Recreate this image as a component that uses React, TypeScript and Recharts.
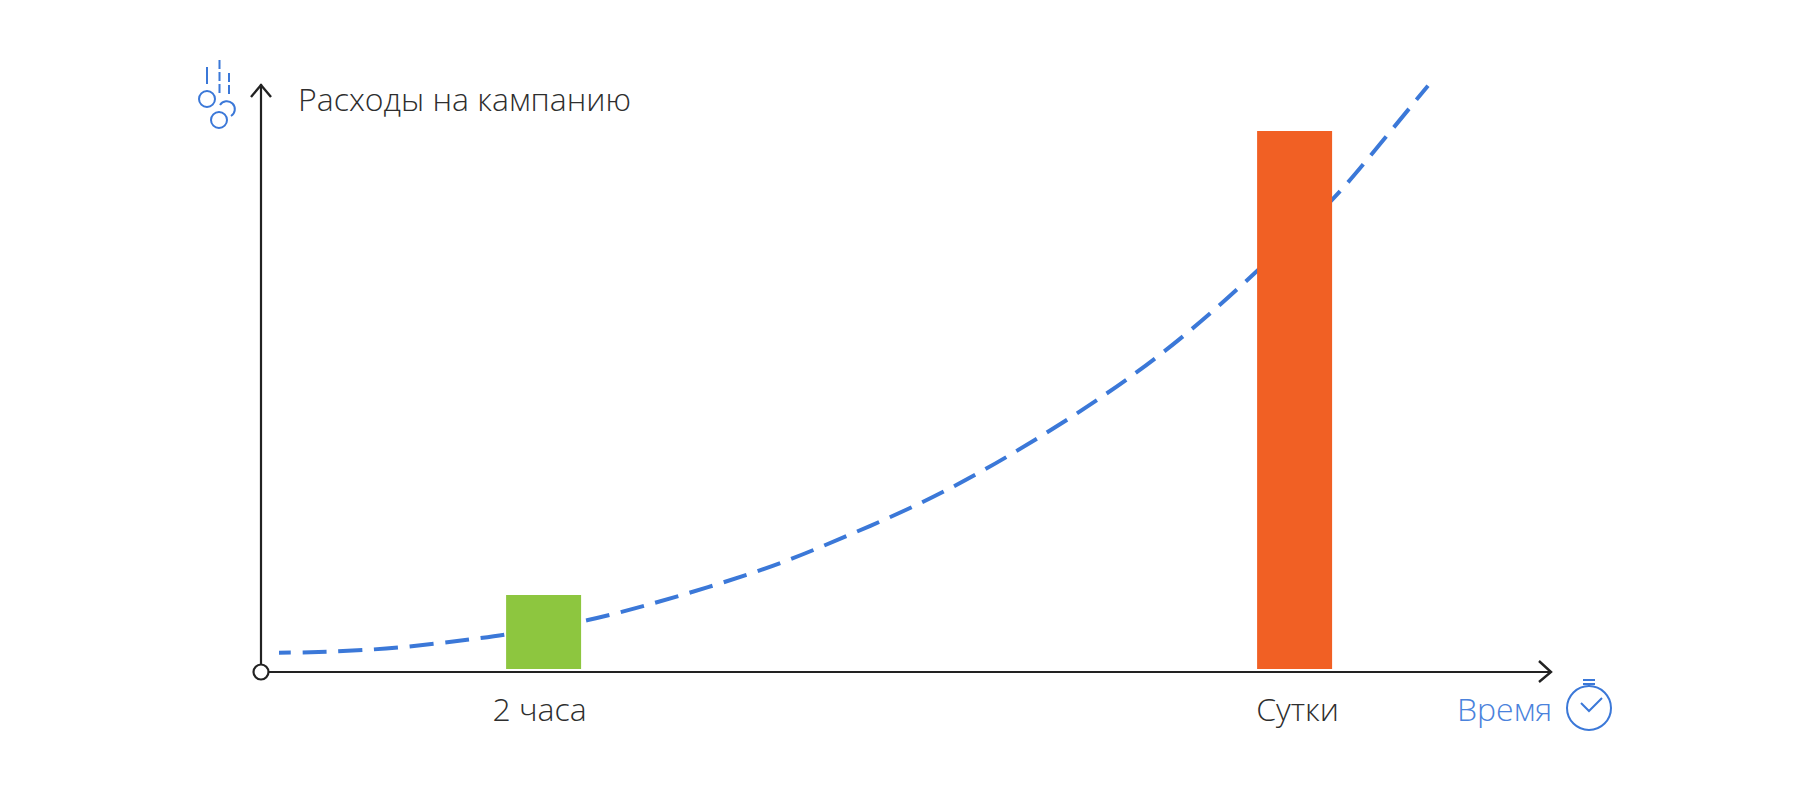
import { Bar, Cell, ComposedChart, Line, Rectangle, XAxis, YAxis } from "recharts";

const BLUE = "#3b78d8";
const TEXT_BLUE = "#4a82dc";
const DARK = "#222222";
const TEXT_DARK = "#2e2e2e";
const FONT = "'Open Sans', sans-serif";
const BAR_WIDTH = 75;

// time runs in arbitrary units, spend in percent of the axis height
const curveTime = [1.8, 6.8, 13.9, 21, 24.6, 28.25, 32.7, 38.6, 45.4, 52.2, 58.8, 65.3, 71.7, 77.9, 83.9, 89.7, 95.2, 99.6, 103.35, 107.1, 110.6, 115.1, 116.7];
const curveSpend = [3.28, 3.45, 4.2, 5.56, 6.41, 7.48, 8.84, 11.39, 14.8, 18.7, 23.3, 28.2, 33.8, 40, 46.6, 53.7, 61.4, 68.2, 74.1, 80.3, 87.1, 96.4, 99.7];

const barTime = [28.25, 103.35];
const barSpend = [13.1, 92];
const barBase = 0.5;
const barColors = ["#8dc63f", "#f16024"];

const labelTime = [27.85, 103.65];
const labelText = ["2 часа", "Сутки"];

const rows = curveTime.map((time, i) => {
  const b = barTime.indexOf(time);
  return {
    time,
    curve: curveSpend[i],
    bar: b >= 0 ? [barBase, barSpend[b]] : null,
    barIndex: b,
  };
});

function WideBar(props: any) {
  const { x, width, ...rest } = props;
  return <Rectangle {...rest} x={x + width / 2 - BAR_WIDTH / 2} width={BAR_WIDTH} />;
}

function Overlay() {
  return (
    <svg width={1800} height={790} style={{ position: "absolute", left: 0, top: 0 }}>
      <g fill="none" stroke={DARK} strokeWidth={2.4}>
        <path d="M251 97 L261 85 L271 97" />
        <path d="M1539 661 L1551 672 L1539 682" />
      </g>
      <circle cx={261} cy={672} r={7.5} fill="#fff" stroke={DARK} strokeWidth={2.2} />
      <g fill="none" stroke={BLUE} strokeWidth={2}>
        <circle cx={207} cy={99} r={8} />
        <circle cx={219} cy={120} r={8} />
        <path d="M220 105 A8 8 0 1 1 231 116" />
        <path d="M207 67 V84" />
        <path d="M219.5 60 V96" strokeDasharray="9 3" />
        <path d="M229 73 V96" strokeDasharray="9 3" />
        <circle cx={1589} cy={708} r={22} />
        <path d="M1583 680 H1595 M1583 684 H1595 M1589 684 V686" />
        <path d="M1581 703 L1589 711 L1602 698" />
      </g>
      <text x={298} y={111} fontFamily={FONT} fontWeight={300} fontSize={32} fill={TEXT_DARK}>
        Расходы на кампанию
      </text>
      <text x={1457} y={721} fontFamily={FONT} fontWeight={300} fontSize={32} fill={TEXT_BLUE}>
        Время
      </text>
    </svg>
  );
}

export default function App() {
  return (
    <div style={{ position: "absolute", left: 0, top: 0, width: 1800, height: 790, background: "#fff" }}>
      <ComposedChart
        width={1800}
        height={790}
        data={rows}
        margin={{ top: 84, right: 249, bottom: 0, left: 260 }}
      >
        <XAxis
          dataKey="time"
          type="number"
          domain={[0, 129]}
          ticks={labelTime}
          tickFormatter={(v: number) => labelText[labelTime.indexOf(v)]}
          height={118}
          tickLine={false}
          tickMargin={20}
          axisLine={{ stroke: DARK, strokeWidth: 2.2 }}
          tick={{ fontFamily: FONT, fontWeight: 300, fontSize: 32, fill: TEXT_DARK }}
          interval={0}
        />
        <YAxis
          type="number"
          domain={[0, 100]}
          width={1}
          tick={false}
          tickLine={false}
          axisLine={{ stroke: DARK, strokeWidth: 2.2 }}
        />
        <Line
          dataKey="curve"
          type="natural"
          stroke={BLUE}
          strokeWidth={4}
          strokeDasharray="24 11.7"
          strokeDashoffset={12}
          dot={false}
          activeDot={false}
          isAnimationActive={false}
        />
        <Bar dataKey="bar" zIndex={500} shape={WideBar} isAnimationActive={false}>
          {rows.map((r, i) => (
            <Cell key={i} fill={r.barIndex >= 0 ? barColors[r.barIndex] : "none"} />
          ))}
        </Bar>
      </ComposedChart>
      <Overlay />
    </div>
  );
}
